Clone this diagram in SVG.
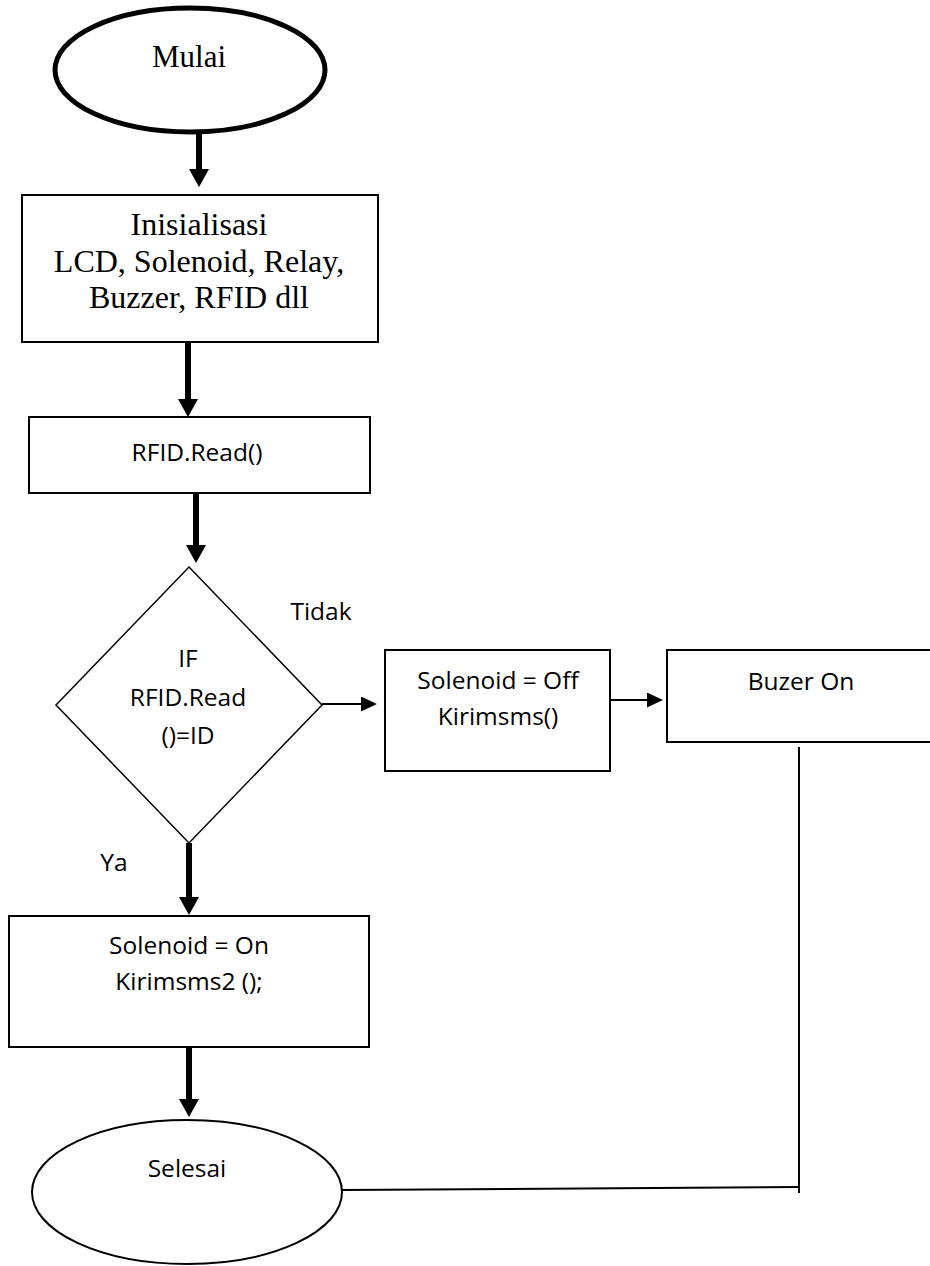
<svg xmlns="http://www.w3.org/2000/svg" width="930" height="1266" viewBox="0 0 930 1266">
<style>
.box{fill:#fff;stroke:#000;stroke-width:2}
.serif{font-family:"Liberation Serif","Times New Roman",serif;fill:#000;text-anchor:middle}
.sans{font-family:"Open Sans","Noto Sans",sans-serif;font-size:24.5px;fill:#000;text-anchor:middle}
.thick{stroke:#000;stroke-width:6;fill:none}
.thin{stroke:#000;stroke-width:2;fill:none}
</style>
<defs>
<marker id="bigHead" viewBox="0 0 18 20" refX="0" refY="10" markerWidth="18" markerHeight="20" markerUnits="userSpaceOnUse" orient="auto">
<path d="M0,0 L18,10 L0,20 z" fill="#000"/>
</marker>
<marker id="smallHead" viewBox="0 0 16 15" refX="0" refY="7.5" markerWidth="16" markerHeight="15" markerUnits="userSpaceOnUse" orient="auto">
<path d="M0,0 L16,7.5 L0,15 z" fill="#000"/>
</marker>
</defs>
<rect width="930" height="1266" fill="#fff"/>
<g id="connectors">
<line class="thick" x1="199" y1="134" x2="199" y2="169" marker-end="url(#bigHead)"/>
<line class="thick" x1="188" y1="343" x2="188" y2="399" marker-end="url(#bigHead)"/>
<line class="thick" x1="196" y1="494" x2="196" y2="545" marker-end="url(#bigHead)"/>
<line class="thin" x1="322" y1="704" x2="361" y2="704" marker-end="url(#smallHead)"/>
<line class="thin" x1="609" y1="700" x2="647" y2="700" marker-end="url(#smallHead)"/>
<line class="thick" x1="189" y1="843" x2="189" y2="897" marker-end="url(#bigHead)"/>
<line class="thick" x1="189" y1="1047" x2="189" y2="1099" marker-end="url(#bigHead)"/>
<polyline class="thin" points="342,1190 799,1187"/>
<line class="thin" x1="799" y1="747" x2="799" y2="1193"/>
</g>
<g id="mulai">
<ellipse cx="190" cy="70" rx="135" ry="62" fill="#fff" stroke="#000" stroke-width="5"/>
<text class="serif" x="189" y="67" font-size="31">Mulai</text>
</g>
<g id="inisialisasi">
<rect class="box" x="22" y="195" width="356" height="147"/>
<text class="serif" x="199" y="235" font-size="32">Inisialisasi</text>
<text class="serif" x="199" y="272" font-size="32">LCD, Solenoid, Relay,</text>
<text class="serif" x="199" y="308" font-size="32">Buzzer, RFID dll</text>
</g>
<g id="rfid-read">
<rect class="box" x="29" y="417" width="341" height="76"/>
<text class="sans" x="197" y="461">RFID.Read()</text>
</g>
<g id="decision">
<polygon points="189,567 322,705 189,843 56,705" fill="#fff" stroke="#000" stroke-width="1.5"/>
<text class="sans" x="188" y="667">IF</text>
<text class="sans" x="188" y="706">RFID.Read</text>
<text class="sans" x="188" y="744">()=ID</text>
</g>
<g id="label-tidak">
<text class="sans" x="321" y="620">Tidak</text>
</g>
<g id="label-ya">
<text class="sans" x="114" y="871">Ya</text>
</g>
<g id="solenoid-off">
<rect class="box" x="385" y="650" width="225" height="121"/>
<text class="sans" x="498" y="689">Solenoid = Off</text>
<text class="sans" x="498" y="725">Kirimsms()</text>
</g>
<g id="buzer-on">
<rect class="box" x="667" y="650" width="280" height="92"/>
<text class="sans" x="801" y="690">Buzer On</text>
</g>
<g id="solenoid-on">
<rect class="box" x="9" y="916" width="360" height="131"/>
<text class="sans" x="189" y="954">Solenoid = On</text>
<text class="sans" x="189" y="990">Kirimsms2 ();</text>
</g>
<g id="selesai">
<ellipse cx="187" cy="1192" rx="155" ry="72" fill="#fff" stroke="#000" stroke-width="2"/>
<text class="sans" x="187" y="1177">Selesai</text>
</g>
</svg>
